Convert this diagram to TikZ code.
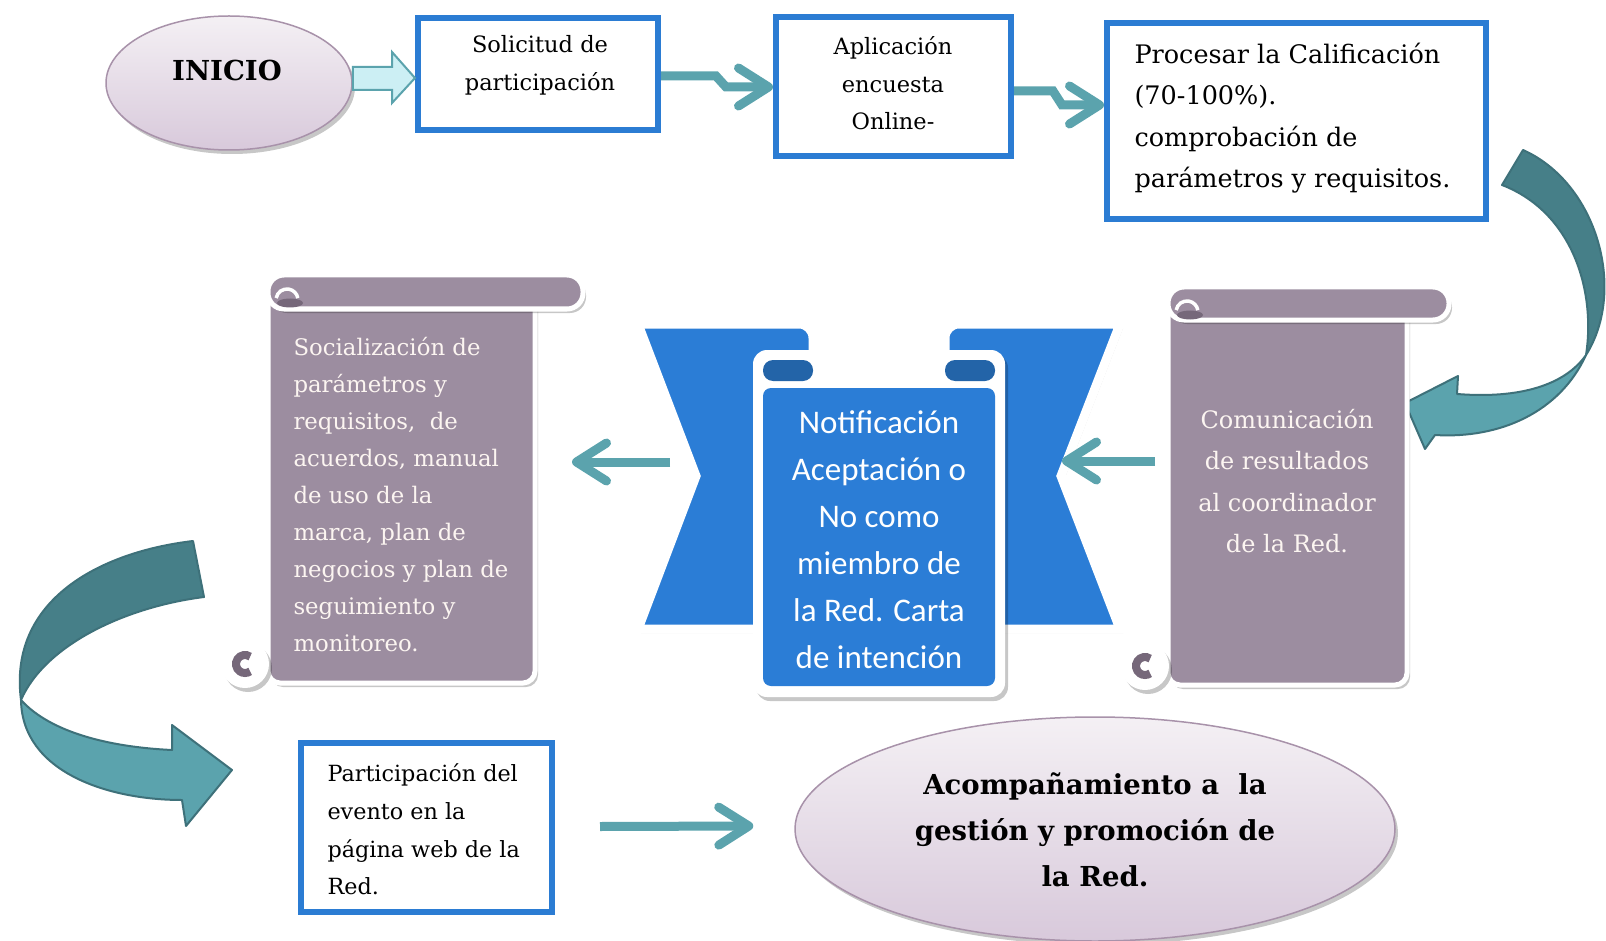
\documentclass[tikz,border=0pt]{standalone}
\usepackage{fontspec}
\setmainfont{DejaVu Serif}
\newfontfamily\calfont{Carlito}
\usetikzlibrary{shapes.geometric,arrows.meta,shadows,calc}
\definecolor{boxblue}{HTML}{2B7CD3}
\definecolor{tealL}{HTML}{5BA3AD}
\definecolor{tealD}{HTML}{467F88}
\definecolor{tealE}{HTML}{3E717A}
\definecolor{scrollp}{HTML}{9C8DA0}
\definecolor{scrolld}{HTML}{76687A}
\definecolor{banblue}{HTML}{2B7DD6}
\definecolor{bandark}{HTML}{2364A8}
\definecolor{elltop}{HTML}{F4F0F4}
\definecolor{ellbot}{HTML}{D8C9DB}
\definecolor{ellline}{HTML}{A892AA}
\definecolor{hollowfill}{HTML}{CCEFF4}
\definecolor{scrolltext}{HTML}{FCF5F1}
\begin{document}
\begin{tikzpicture}[x=1pt,y=-1pt,
  boxnode/.style={draw=boxblue, line width=6, inner sep=0, fill=white},
  softshadow/.style={drop shadow={shadow xshift=3pt, shadow yshift=-4pt, opacity=0.22, fill=black}},
  conn/.style={draw=tealL, line width=9, -{Straight Barb[length=30pt, width=38pt, round]}},
  curvefill/.style={draw=tealE, line width=2, line join=round},
  ellnode/.style={ellipse, draw=ellline, line width=1.5, top color=elltop, bottom color=ellbot, inner sep=0, softshadow},
  hidden/.style={inner sep=0, outer sep=0}
]
\useasboundingbox (0,0) rectangle (1606,941);
\fill[white] (0,0) rectangle (1606,941);

% ---------- top row ----------
\node[ellnode, minimum width=246, minimum height=134] (inicio) at (229,83) {};
\node[font=\bfseries\fontsize{27.5}{33}\selectfont] (inicioT) at (227,70) {INICIO};
\node[boxnode, minimum width=240, minimum height=112] (sol) at (538,74) {};
\node[font=\fontsize{22.5}{38}\selectfont, align=center] (solT) at (540,65) {Solicitud de\\participación};
\node[boxnode, minimum width=235, minimum height=139] (apl) at (893.5,86.5) {};
\node[font=\fontsize{22.5}{37.4}\selectfont, align=center] (aplT) at (893,83.5) {Aplicación\\encuesta\\Online-};
\node[boxnode, minimum width=379, minimum height=196] (proc) at (1296.5,121) {};
\node[font=\fontsize{25.5}{41.3}\selectfont, align=left, anchor=west] (procT) at (1131,118) {Procesar la Calificación\\(70-100\%).\\comprobación de\\parámetros y requisitos.};

% hollow block arrow
\draw[fill=hollowfill, draw=tealL, line width=2, line join=miter]
  (inicio.east |- 0,67) -- (392,67) -- (392,52) -- (sol.west |- 0,78) -- (392,103) -- (392,90) -- (inicio.east |- 0,90) -- cycle;

% zigzag connectors
\draw[conn, line join=miter] (sol.east |- 0,76) -- (716,76) -- (726,87) -- (apl.west |- 0,87);
\draw[conn, line join=miter] (apl.east |- 0,91) -- (1053,91) -- (1062,105) -- (proc.west |- 0,105);

% ---------- right curved arrow ----------
\path[curvefill, fill=tealD] (1523,150) .. controls (1597,183) and (1627,290) .. (1586,355)
  .. controls (1596,290) and (1572,212) .. (1502,185) -- cycle;
\path[curvefill, fill=tealL] (1586,355) .. controls (1560,412) and (1500,439) .. (1435,435)
  -- (1425,449) -- (1405,403) -- (1458,376) -- (1457,394)
  .. controls (1520,399) and (1565,385) .. (1586,355) -- cycle;

% ---------- right scroll ----------
\path[softshadow, fill=scrollp, draw=white, line width=5, rounded corners=12] (1168,304) rectangle (1407,685);
\path[softshadow, fill=white] (1145,666) circle[radius=24pt];
\draw[scrolld, line width=8] ([shift={(55:9pt)}]1145,666) arc[start angle=55, end angle=305, radius=9pt];
\path[softshadow, fill=scrollp, draw=white, line width=5, rounded corners=16] (1168,287) rectangle (1449,320);
\draw[white, line width=3.5] ([shift={(170:11pt)}]1187,312) arc[start angle=170, end angle=10, radius=11pt];
\fill[scrolld] (1190,315) ellipse[x radius=13pt, y radius=4.5pt];
\node[hidden, minimum width=301, minimum height=410] (scrR) at (1305.5,485) {};
\node[font=\fontsize{24}{41.3}\selectfont, text=scrolltext, align=center] (scrRT) at (1287,481) {Comunicación\\de resultados\\al coordinador\\de la Red.};

% ---------- left scroll ----------
\path[softshadow, fill=scrollp, draw=white, line width=5, rounded corners=12] (268,292) rectangle (535,683);
\path[softshadow, fill=white] (245,664) circle[radius=24pt];
\draw[scrolld, line width=8] ([shift={(55:9pt)}]245,664) arc[start angle=55, end angle=305, radius=9pt];
\path[softshadow, fill=scrollp, draw=white, line width=5, rounded corners=16] (268,275) rectangle (583,309);
\draw[white, line width=3.5] ([shift={(170:11pt)}]287,300) arc[start angle=170, end angle=10, radius=11pt];
\fill[scrolld] (290,303) ellipse[x radius=13pt, y radius=4.5pt];
\node[hidden, minimum width=308, minimum height=408] (scrL) at (426,479) {};
\node[font=\fontsize{22.8}{37.1}\selectfont, text=scrolltext, align=left, anchor=west] (scrLT) at (290,494.5) {Socialización de\\parámetros y\\requisitos,\ \ de\\acuerdos, manual\\de uso de la\\marca, plan de\\negocios y plan de\\seguimiento y\\monitoreo.};

% ---------- banner ----------
\path[softshadow, fill=banblue, draw=white, line width=9, line join=miter]
  (638,324) -- (780,324) [rounded corners=14] -- (813,324) -- (813,360) [sharp corners] -- (813,629) -- (638,629) -- (696,476) -- cycle;
\path[softshadow, fill=banblue, draw=white, line width=9, line join=miter]
  (1120,324) -- (978,324) [rounded corners=14] -- (945,324) -- (945,360) [sharp corners] -- (945,629) -- (1120,629) -- (1061,476) -- cycle;
\path[softshadow, fill=white, rounded corners=14] (753,350) rectangle (1005,697);
\path[fill=banblue, rounded corners=8] (763,388) rectangle (995,686);
\path[fill=bandark, rounded corners=10] (763,360) rectangle (813,381);
\path[fill=bandark, rounded corners=10] (945,360) rectangle (995,381);
\coordinate (notchL) at (700,475);
\coordinate (notchR) at (1057,475);
\node[font=\calfont\fontsize{33}{47}\selectfont, text=white, align=center] (banT) at (879,540) {Notificación\\Aceptación o\\No como\\miembro de\\la Red. Carta\\de intención};

% middle-row connectors
\draw[conn] ($(scrR.west)+(0,-24)$) -- ($(notchR)+(5,-14)$);
\draw[conn] ($(notchL)+(-30,-13)$) -- ($(scrL.east)+(-8,-17)$);

% ---------- left curved arrow ----------
\path[curvefill, fill=tealD] (193,541) .. controls (100,552) and (8,600) .. (21,700)
  .. controls (45,645) and (125,607) .. (204,597) -- cycle;
\path[curvefill, fill=tealL] (21,700) .. controls (22,772) and (108,800) .. (182,800)
  -- (186,826) -- (232,770) -- (172,725) -- (172,750)
  .. controls (108,747) and (50,732) .. (21,700) -- cycle;

% ---------- bottom row ----------
\node[boxnode, minimum width=251, minimum height=169] (part) at (426.5,827.5) {};
\node[font=\fontsize{22.3}{37.6}\selectfont, align=left, anchor=west] (partT) at (324,829.5) {Participación del\\evento en la\\página web de la\\Red.};
\node[ellnode, minimum width=600, minimum height=224] (acomp) at (1095,829) {};
\node[font=\bfseries\fontsize{27.5}{46}\selectfont, align=center] (acompT) at (1095,830) {Acompañamiento a\ \ la\\gestión y promoción de\\la Red.};
\draw[conn] ($(part.east)+(45,-1)$) -- ($(acomp.west)+(-41,-3)$);
\end{tikzpicture}
\end{document}
